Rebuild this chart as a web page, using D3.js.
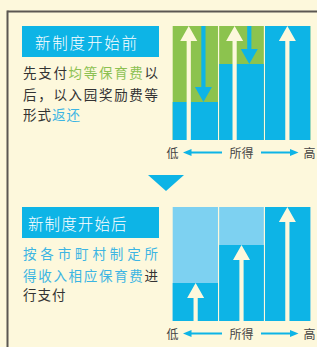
<!DOCTYPE html>
<html><head><meta charset="utf-8">
<script src="https://cdn.jsdelivr.net/npm/d3@7"></script>
<style>html,body{margin:0;padding:0;background:#fdf8dc;}svg{display:block;}</style>
</head><body>
<script>
// ---- data ----
const categories = ["低", "中", "高"];          // income level columns
const equalFee = [1, 1, 1];                     // before: everyone pays equal fee
const incomeFee = [1/3, 2/3, 1];                // share actually borne according to income
const axisLabels = ["低", "所得", "高"];
const titleBefore = "新制度开始前";
const titleAfter = "新制度开始后";
const textBefore = [
  [["先支付", "dark"], ["均等保育费", "green"], ["以", "dark"]],
  [["后，以入园奖励费等", "dark"]],
  [["形式", "dark"], ["返还", "blue"]]
];
const textAfter = [
  [["按各市町村制定所", "blue"]],
  [["得收入相应保育费", "blue"], ["进", "dark"]],
  [["行支付", "dark"]]
];

// ---- style ----
const C = {bg:"#fdf8dc", blue:"#0db4e6", green:"#8cc34e", light:"#7dd1f1", dark:"#333333",
           textGreen:"#8cc152", textBlue:"#3cb5e3", border:"#5b5752", arrow:"#fdf8dc"};
const FONT = "'Noto Sans CJK SC','Noto Sans',sans-serif";

const W = 317, H = 347;
const svg = d3.select("body").append("svg").attr("width", W).attr("height", H);
svg.append("rect").attr("width", W).attr("height", H).attr("fill", C.bg);

// frame lines
svg.append("line").attr("x1", 7.5).attr("x2", W).attr("y1", 11.5).attr("y2", 11.5)
  .attr("stroke", C.border).attr("stroke-width", 2);
svg.append("line").attr("x1", 7.5).attr("x2", 7.5).attr("y1", 10.5).attr("y2", H)
  .attr("stroke", C.border).attr("stroke-width", 2);

// title boxes (per-character placement)
function titleBox(y, h, label, tx, pitch) {
  svg.append("rect").attr("x", 22).attr("y", y).attr("width", 137).attr("height", h).attr("fill", C.blue);
  Array.from(label).forEach((ch, i) => {
    svg.append("text").attr("x", tx + i * pitch).attr("y", y + h / 2).attr("dominant-baseline", "central")
      .attr("fill", "#fff").attr("font-family", FONT).attr("font-weight", 300)
      .attr("font-size", 15.5).text(ch);
  });
}
titleBox(26, 31, titleBefore, 35, 17.3);
titleBox(207, 31, titleAfter, 28, 16.6);

// body text, per-character layout (justified except last line)
function bodyText(lines, yCenters) {
  const fs = 13.5, x0 = 23, x1 = 158;
  lines.forEach((segs, li) => {
    const chars = [];
    segs.forEach(([s, c]) => { for (const ch of s) chars.push([ch, c]); });
    const last = li === lines.length - 1;
    const pitch = last ? 14.5 : (x1 - x0 - fs) / (chars.length - 1);
    chars.forEach(([ch, c], i) => {
      svg.append("text").attr("x", x0 + i * pitch).attr("y", yCenters[li])
        .attr("dominant-baseline", "central").attr("font-family", FONT).attr("font-size", fs)
        .attr("fill", c === "green" ? C.textGreen : c === "blue" ? C.textBlue : C.dark)
        .text(ch);
    });
  });
}
bodyText(textBefore, [72, 94, 114]);
bodyText(textAfter, [253, 274.5, 294]);

// down triangle between panels
svg.append("path").attr("d", "M148,175 L184,175 L166,191 Z").attr("fill", C.blue);

// arrow helper: vertical arrow from y0 (tail) to y1 (tip)
function vArrow(g, x, y0, y1, color) {
  const hw = 8.5, hh = 15, sw = 2.1;
  const dir = y1 < y0 ? 1 : -1; // 1 = up
  const base = y1 + dir * hh;
  g.append("path").attr("fill", color).attr("d",
    `M${x - sw},${y0} L${x - sw},${base} L${x - hw},${base} L${x},${y1} L${x + hw},${base} L${x + sw},${base} L${x + sw},${y0} Z`);
}

function panel(top, bottom, topColor, before) {
  const g = svg.append("g");
  const x = d3.scaleBand().domain(categories).range([172.7, 310.3]).paddingInner(0);
  const y = d3.scaleLinear().domain([0, 1]).range([bottom, top]);
  const bw = x.bandwidth();
  categories.forEach((c, i) => {
    const x0 = x(c) + (i > 0 ? 0.6 : 0), x1 = x(c) + bw - (i < 2 ? 0.6 : 0);
    g.append("rect").attr("x", x0).attr("y", y(equalFee[i])).attr("width", x1 - x0)
      .attr("height", y(0) - y(equalFee[i])).attr("fill", topColor);
    g.append("rect").attr("x", x0).attr("y", y(incomeFee[i])).attr("width", x1 - x0)
      .attr("height", y(0) - y(incomeFee[i])).attr("fill", C.blue);
  });
  categories.forEach((c, i) => {
    if (before) {
      const hasDown = incomeFee[i] < equalFee[i];
      const wx = hasDown ? x(c) + bw * 0.35 : x(c) + bw * 0.5;
      vArrow(g, wx, y(0), y(equalFee[i]), C.arrow);
      if (hasDown) vArrow(g, x(c) + bw * 0.67, y(equalFee[i]), y(incomeFee[i]), C.blue);
    } else {
      vArrow(g, x(c) + bw * 0.5, y(0), y(incomeFee[i]), C.arrow);
    }
  });
  // axis labels with arrows
  const ay = bottom + 12.5;
  const lab = (t, cx) => g.append("text").attr("x", cx).attr("y", ay).attr("text-anchor", "middle")
    .attr("dominant-baseline", "central").attr("font-family", FONT).attr("font-size", 12)
    .attr("fill", "#444").text(t);
  lab(axisLabels[0], 172.5);
  lab(axisLabels[1], 241.5);
  lab(axisLabels[2], 309.5);
  g.append("line").attr("x1", 222).attr("x2", 189).attr("y1", ay).attr("y2", ay).attr("stroke", C.blue).attr("stroke-width", 2);
  g.append("path").attr("d", `M183,${ay} L191.5,${ay - 3.6} L191.5,${ay + 3.6} Z`).attr("fill", C.blue);
  g.append("line").attr("x1", 261).attr("x2", 292).attr("y1", ay).attr("y2", ay).attr("stroke", C.blue).attr("stroke-width", 2);
  g.append("path").attr("d", `M298.5,${ay} L290,${ay - 3.6} L290,${ay + 3.6} Z`).attr("fill", C.blue);
}
panel(26, 140, C.green, true);
panel(207, 321, C.light, false);
</script>
</body></html>
